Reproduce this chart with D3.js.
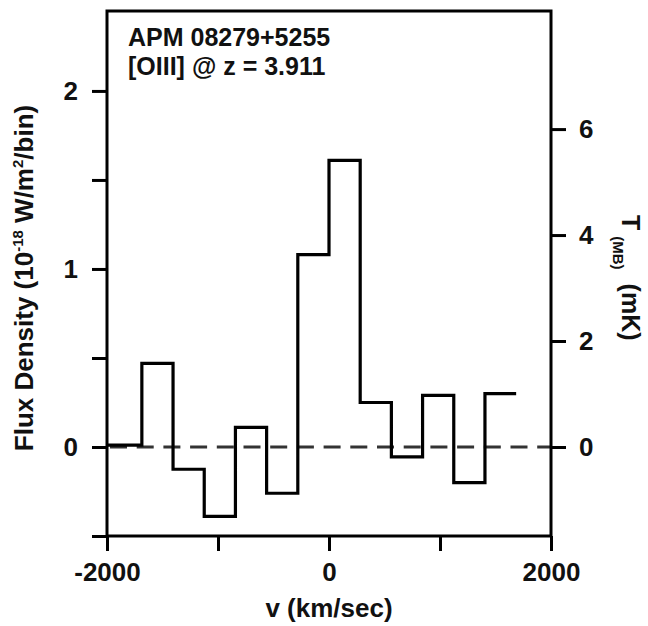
<!DOCTYPE html>
<html>
<head>
<meta charset="utf-8">
<script src="https://cdn.jsdelivr.net/npm/d3@7"></script>
<style>
  html, body { margin: 0; padding: 0; background: #fff; }
  svg text { font-family: "Liberation Sans", Arial, Helvetica, sans-serif; font-weight: bold; fill: #111; }
</style>
</head>
<body>
<svg id="chart" width="648" height="626"></svg>
<script>
// ---- Data ----
const binEdges = [-2000, -1686, -1405, -1124, -843, -562, -281, 0, 281, 562, 843, 1124, 1405, 1686]; // km/s
const fluxValues = [0.01, 0.47, -0.125, -0.39, 0.11, -0.26, 1.08, 1.61, 0.25, -0.055, 0.29, -0.20, 0.30]; // 1e-18 W/m^2/bin
const xTicks = [-2000, -1000, 0, 1000, 2000];
const xTickLabels = ["-2000", "", "0", "", "2000"];
const yLeftTicks = [-0.5, 0, 0.5, 1, 1.5, 2];
const yLeftTickLabels = ["", "0", "", "1", "", "2"];
const yRightTicks = [0, 2, 4, 6];
const titleLines = ["APM 08279+5255", "[OIII] @ z = 3.911"];

// ---- Layout ----
const mLeft = 107, mRight = 551, mTop = 11, mBottom = 536;
const svg = d3.select("#chart");

const x = d3.scaleLinear().domain([-2000, 2000]).range([mLeft, mRight]);
const y = d3.scaleLinear().domain([-0.5, 2.449]).range([mBottom, mTop]);
const mKPerUnit = 3.36;
const yR = d3.scaleLinear().domain([-0.5 * mKPerUnit, 2.449 * mKPerUnit]).range([mBottom, mTop]);

// zero dashed line
svg.append("line")
  .attr("x1", x(-2000)).attr("x2", x(2000))
  .attr("y1", y(0)).attr("y2", y(0))
  .attr("stroke", "#333").attr("stroke-width", 3)
  .attr("stroke-dasharray", "17,9.7").attr("stroke-dashoffset", -3);

// step histogram
const pts = binEdges.map((e, i) => [e, i < fluxValues.length ? fluxValues[i] : fluxValues[fluxValues.length - 1]]);
const line = d3.line().x(d => x(d[0])).y(d => y(d[1])).curve(d3.curveStepAfter);
svg.append("path")
  .attr("d", line(pts))
  .attr("fill", "none").attr("stroke", "#000").attr("stroke-width", 3.2)
  .attr("stroke-linejoin", "miter");

// frame
svg.append("rect")
  .attr("x", mLeft).attr("y", mTop).attr("width", mRight - mLeft).attr("height", mBottom - mTop)
  .attr("fill", "none").attr("stroke", "#000").attr("stroke-width", 3);

function styleAxis(g) {
  g.select(".domain").remove();
  g.selectAll(".tick line").attr("stroke", "#000").attr("stroke-width", 3);
  g.selectAll(".tick text").attr("font-size", 26).style("fill", "#111");
}

// x axis
svg.append("g").attr("transform", `translate(0,${mBottom})`)
  .call(d3.axisBottom(x).tickValues(xTicks).tickSize(15).tickPadding(12)
    .tickFormat((d, i) => xTickLabels[i]))
  .call(styleAxis);

// left y axis
svg.append("g").attr("transform", `translate(${mLeft},0)`)
  .call(d3.axisLeft(y).tickValues(yLeftTicks).tickSize(15).tickPadding(14)
    .tickFormat((d, i) => yLeftTickLabels[i]))
  .call(styleAxis);

// right y axis
svg.append("g").attr("transform", `translate(${mRight},0)`)
  .call(d3.axisRight(yR).tickValues(yRightTicks).tickSize(15).tickPadding(13)
    .tickFormat(d3.format("d")))
  .call(styleAxis);

// title
svg.append("text").attr("x", 128).attr("y", 46).attr("font-size", 25).text(titleLines[0]);
svg.append("text").attr("x", 128).attr("y", 75).attr("font-size", 25).text(titleLines[1]);

// x axis label
svg.append("text").attr("x", x(0)).attr("y", 617).attr("text-anchor", "middle")
  .attr("font-size", 26).text("v (km/sec)");

// left y label
const yl = svg.append("text").attr("transform", "translate(33,278) rotate(-90)")
  .attr("text-anchor", "middle").attr("font-size", 26);
yl.append("tspan").text("Flux Density (10");
yl.append("tspan").attr("font-size", 15).attr("dy", -10).text("-18");
yl.append("tspan").attr("dy", 10).text(" W/m");
yl.append("tspan").attr("font-size", 15).attr("dy", -10).text("2");
yl.append("tspan").attr("dy", 10).text("/bin)");

// right y label
const yr = svg.append("text").attr("transform", "translate(622,215) rotate(90)")
  .attr("text-anchor", "start").attr("font-size", 25);
yr.append("tspan").text("T");
yr.append("tspan").attr("font-size", 15).attr("dy", 9).attr("dx", 6).text("(MB)");
yr.append("tspan").attr("dy", -9).attr("dx", 14).text("(mK)");
</script>
</body>
</html>
